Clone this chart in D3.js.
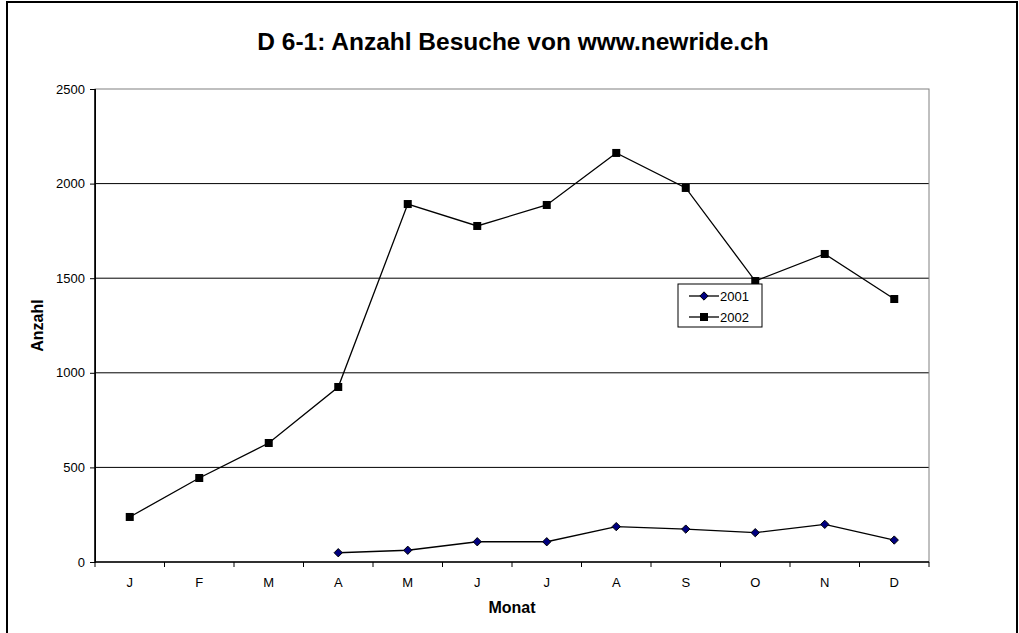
<!DOCTYPE html>
<html>
<head>
<meta charset="utf-8">
<script src="https://cdn.jsdelivr.net/npm/d3@7"></script>
<style>
  body { margin: 0; background: #fff; }
  text { font-family: "Liberation Sans", Arial, sans-serif; }
</style>
</head>
<body>
<svg id="chart" width="1019" height="633"></svg>
<script>
'use strict';

var months = ['J', 'F', 'M', 'A', 'M', 'J', 'J', 'A', 'S', 'O', 'N', 'D'];
var visits2001 = [null, null, null, 49, 62, 107, 107, 187, 174, 155, 199, 116];
var visits2002 = [238, 444, 629, 925, 1892, 1776, 1887, 2162, 1977, 1485, 1628, 1390];
var yTicks = [0, 500, 1000, 1500, 2000, 2500];

var svg = d3.select('#chart');
var plot = {left: 95, top: 89, right: 929, bottom: 562};

// outer frame
svg.append('rect')
  .attr('x', 7).attr('y', 2)
  .attr('width', 1010).attr('height', 660)
  .attr('fill', 'none')
  .attr('stroke', '#000')
  .attr('stroke-width', 2);

var x = d3.scaleBand()
  .domain(d3.range(months.length))
  .range([plot.left, plot.right]);

var y = d3.scaleLinear()
  .domain([0, 2500])
  .range([plot.bottom, plot.top]);

// gridlines
svg.append('g')
  .selectAll('line')
  .data(yTicks.filter(d => d > 0 && d < 2500))
  .enter().append('line')
  .attr('x1', plot.left).attr('x2', plot.right)
  .attr('y1', d => y(d)).attr('y2', d => y(d))
  .attr('stroke', '#000')
  .attr('stroke-width', 1);

// plot border
svg.append('rect')
  .attr('x', plot.left).attr('y', plot.top)
  .attr('width', plot.right - plot.left)
  .attr('height', plot.bottom - plot.top)
  .attr('fill', 'none')
  .attr('stroke', '#808080')
  .attr('stroke-width', 1);

// y axis
var yAxis = svg.append('g')
  .attr('transform', 'translate(' + plot.left + ',0)')
  .call(d3.axisLeft(y).tickValues(yTicks).tickSize(5).tickPadding(5).tickFormat(d3.format('d')));
yAxis.selectAll('path, line').attr('stroke', '#000');
yAxis.selectAll('text').attr('font-size', '13px').attr('font-family', '"Liberation Sans", Arial, sans-serif').attr('fill', '#000');

// x axis: ticks between categories
var xAxis = svg.append('g')
  .attr('transform', 'translate(0,' + plot.bottom + ')');
xAxis.append('line')
  .attr('x1', plot.left).attr('x2', plot.right)
  .attr('stroke', '#000').attr('stroke-width', 1.5);
xAxis.selectAll('.tick-mark')
  .data(d3.range(months.length + 1))
  .enter().append('line')
  .attr('class', 'tick-mark')
  .attr('x1', i => plot.left + i * x.step())
  .attr('x2', i => plot.left + i * x.step())
  .attr('y1', 0).attr('y2', 5)
  .attr('stroke', '#000');
xAxis.selectAll('.tick-label')
  .data(months)
  .enter().append('text')
  .attr('class', 'tick-label')
  .attr('x', (d, i) => x(i) + x.bandwidth() / 2)
  .attr('y', 25)
  .attr('text-anchor', 'middle')
  .attr('font-size', '13px')
  .text(d => d);

// y axis line (darker)
svg.append('line')
  .attr('x1', plot.left).attr('x2', plot.left)
  .attr('y1', plot.top).attr('y2', plot.bottom)
  .attr('stroke', '#000').attr('stroke-width', 1.5);

var cx = i => x(i) + x.bandwidth() / 2;
var line = d3.line()
  .defined(d => d != null)
  .x((d, i) => cx(i))
  .y(d => y(d));

// 2002 series
svg.append('path')
  .datum(visits2002)
  .attr('d', line)
  .attr('fill', 'none')
  .attr('stroke', '#000')
  .attr('stroke-width', 1.3);
svg.append('g').selectAll('rect')
  .data(visits2002)
  .enter().append('rect')
  .attr('x', (d, i) => cx(i) - 4)
  .attr('y', d => y(d) - 4)
  .attr('width', 8).attr('height', 8)
  .attr('fill', '#000');

// 2001 series
svg.append('path')
  .datum(visits2001)
  .attr('d', line)
  .attr('fill', 'none')
  .attr('stroke', '#000')
  .attr('stroke-width', 1.3);
var diamond = d3.symbol().type(d3.symbolDiamond2).size(44);
svg.append('g').selectAll('path')
  .data(visits2001.map((d, i) => ({v: d, i: i})).filter(d => d.v != null))
  .enter().append('path')
  .attr('d', diamond)
  .attr('transform', d => 'translate(' + cx(d.i) + ',' + y(d.v) + ')')
  .attr('fill', '#000080')
  .attr('stroke', '#000')
  .attr('stroke-width', 1);

// title
svg.append('text')
  .attr('x', 513).attr('y', 50)
  .attr('text-anchor', 'middle')
  .attr('font-size', '24.5px')
  .attr('font-weight', 'bold')
  .text('D 6-1: Anzahl Besuche von www.newride.ch');

// axis titles
svg.append('text')
  .attr('transform', 'translate(43,' + ((plot.top + plot.bottom) / 2) + ') rotate(-90)')
  .attr('text-anchor', 'middle')
  .attr('font-size', '16px')
  .attr('font-weight', 'bold')
  .text('Anzahl');
svg.append('text')
  .attr('x', (plot.left + plot.right) / 2).attr('y', 613)
  .attr('text-anchor', 'middle')
  .attr('font-size', '16px')
  .attr('font-weight', 'bold')
  .text('Monat');

// legend
var legend = svg.append('g').attr('transform', 'translate(678,284)');
legend.append('rect')
  .attr('width', 84).attr('height', 43)
  .attr('fill', '#fff')
  .attr('stroke', '#000')
  .attr('stroke-width', 1);
var entries = [{name: '2001', type: 'diamond'}, {name: '2002', type: 'square'}];
entries.forEach(function(e, k) {
  var ly = 12 + k * 21;
  legend.append('line')
    .attr('x1', 11).attr('x2', 41)
    .attr('y1', ly).attr('y2', ly)
    .attr('stroke', '#000').attr('stroke-width', 1.3);
  if (e.type === 'diamond') {
    legend.append('path')
      .attr('d', diamond)
      .attr('transform', 'translate(26,' + ly + ')')
      .attr('fill', '#000080')
      .attr('stroke', '#000');
  } else {
    legend.append('rect')
      .attr('x', 22).attr('y', ly - 4)
      .attr('width', 8).attr('height', 8)
      .attr('fill', '#000');
  }
  legend.append('text')
    .attr('x', 42).attr('y', ly + 5)
    .attr('font-size', '13px')
    .text(e.name);
});
</script>
</body>
</html>
